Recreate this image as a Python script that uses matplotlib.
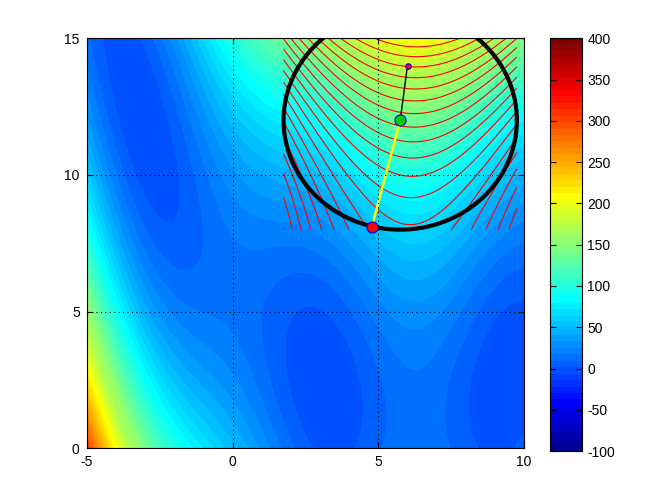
import numpy as np
import matplotlib
matplotlib.use("Agg")
import matplotlib.pyplot as plt
from matplotlib.colors import ListedColormap, Normalize
from matplotlib.cm import ScalarMappable

plt.rcParams['font.family'] = ['Liberation Sans', 'DejaVu Sans']
plt.rcParams['font.size'] = 10
plt.rcParams['axes.unicode_minus'] = False

#### data
# Branin test function on [-5,10] x [0,15]
branin_a = 1.0
branin_b = 5.1 / (4 * np.pi ** 2)
branin_c = 5 / np.pi
branin_r = 6.0
branin_s = 10.0
branin_t = 1 / (8 * np.pi)
x_range = [-5, 10]
y_range = [0, 15]
fill_levels = np.linspace(0.3, 308.2, 42)   # 40 levels between min and max, like matlab

# trust region iterate and quadratic model
center = [5.75, 12.0]
radius = 4.0
prev_point = [6.0, 14.0]
step_point = [4.78, 8.11]
model_f0 = 134.0
model_grad = [4.0, 20.0]
model_hess = [[-8.4, 0.3], [0.3, 3.0]]
model_levels = np.arange(-200, 400, 10)

clim = [-100, 400]
cbar_ticks = [-100, -50, 0, 50, 100, 150, 200, 250, 300, 350, 400]
xticks = [-5, 0, 5, 10]
yticks = [0, 5, 10, 15]


def matlab_jet(m=64):
    n = m // 4
    u = np.concatenate([np.arange(1, n + 1) / n, np.ones(n - 1), np.arange(n, 0, -1) / n])
    g = int(np.ceil(n / 2)) - (m % 4 == 1) + np.arange(1, len(u) + 1)
    r = g + n
    b = g - n
    J = np.zeros((m, 3))
    for idx, col in ((r, 0), (g, 1), (b, 2)):
        ok = (idx >= 1) & (idx <= m)
        J[idx[ok] - 1, col] = u[ok]
    return ListedColormap(J)


def branin(x, y):
    return (branin_a * (y - branin_b * x ** 2 + branin_c * x - branin_r) ** 2
            + branin_s * (1 - branin_t) * np.cos(x) + branin_s)


cmap = matlab_jet(64)
norm = Normalize(clim[0], clim[1])

fig = plt.figure(figsize=(6.72, 5.04), dpi=100)
ax = fig.add_axes([0.129, 0.1105, 0.651, 0.8135])
cax = fig.add_axes([0.8185, 0.105, 0.048, 0.819])

# background filled contours (band coloured by its lower level)
X, Y = np.meshgrid(np.linspace(x_range[0], x_range[1], 300), np.linspace(y_range[0], y_range[1], 300))
Z = branin(X, Y)
band_colors = [cmap(norm(L)) for L in fill_levels[:-1]]
ax.contourf(X, Y, Z, levels=fill_levels, colors=band_colors, antialiased=False)

# quadratic model contours over the box around the center
dx, dy = np.meshgrid(np.linspace(-radius, radius, 200), np.linspace(-radius, radius, 200))
g = model_grad
H = model_hess
M = (model_f0 + g[0] * dx + g[1] * dy
     + 0.5 * (H[0][0] * dx ** 2 + 2 * H[0][1] * dx * dy + H[1][1] * dy ** 2))
ax.contour(center[0] + dx, center[1] + dy, M, levels=model_levels,
           colors='red', linewidths=0.8)

# trust region circle
t = np.linspace(0, 2 * np.pi, 400)
ax.plot(center[0] + radius * np.cos(t), center[1] + radius * np.sin(t), color='black', lw=3)

# path
ax.plot([prev_point[0], center[0]], [prev_point[1], center[1]], color='black', lw=1)
ax.plot([center[0], step_point[0]], [center[1], step_point[1]], color='yellow', lw=1.8)
ax.plot(*prev_point, 'o', ms=4, mfc='red', mec='blue', mew=0.8)
ax.plot(*center, 'o', ms=8, mfc=(0, 0.8, 0), mec='blue', mew=0.8)
ax.plot(*step_point, 'o', ms=8, mfc='red', mec='blue', mew=0.8)

ax.set_xlim(x_range)
ax.set_ylim(y_range)
ax.set_xticks(xticks)
ax.set_yticks(yticks)
ax.grid(True, color='black', linestyle=(0, (1, 3)), lw=0.8)
ax.set_axisbelow(False)
ax.tick_params(direction='in', top=True, right=True, length=4, pad=5)

# colorbar
cb = fig.colorbar(ScalarMappable(norm=norm, cmap=cmap), cax=cax, ticks=cbar_ticks)
cb.outline.set_linewidth(0.8)
cax.tick_params(direction='in', left=True, right=True, length=4)

fig.savefig("out.png", dpi=100)
